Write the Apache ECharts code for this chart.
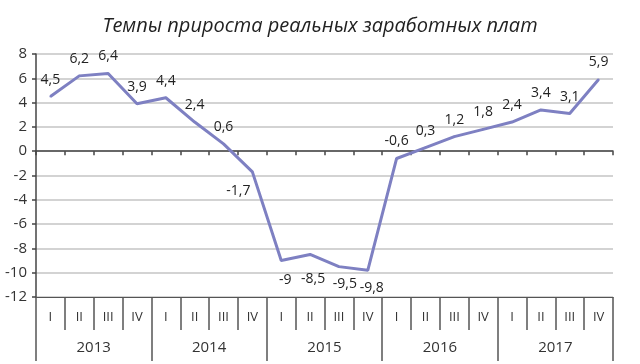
<!DOCTYPE html>
<html><head><meta charset="utf-8">
<script src="https://cdn.jsdelivr.net/npm/echarts@6/dist/echarts.min.js"></script>
<style>html,body{margin:0;padding:0;background:#fff}#c{width:640px;height:364px}</style>
</head><body><div id="c"></div>
<script>
var title = 'Темпы прироста реальных заработных плат';
var quarters = ['I','II','III','IV','I','II','III','IV','I','II','III','IV','I','II','III','IV','I','II','III','IV'];
var years = ['2013','2014','2015','2016','2017'];
var values = [4.5, 6.2, 6.4, 3.9, 4.4, 2.4, 0.6, -1.7, -9, -8.5, -9.5, -9.8, -0.6, 0.3, 1.2, 1.8, 2.4, 3.4, 3.1, 5.9];
var yTicks = {min: -12, max: 8, interval: 2};

var font = "'Open Sans', 'Noto Sans', sans-serif";
var dark = '#333';
// label centre offsets (dx, dy) from the point for labels placed below the line
var belowShift = {7: [-14, 19], 8: [4, 19], 9: [3, 25], 10: [6, 17], 11: [4, 18]};
var data = values.map(function(v, i){
  var item = {value: v};
  var s = belowShift[i];
  if (s) item.label = {position: [1 + s[0], 1 + s[1]], align: 'center', verticalAlign: 'middle'};
  return item;
});
var chart = echarts.init(document.getElementById('c'));
chart.setOption({
  animation: false,
  title: {text: title, left: 'center', top: 11,
    textStyle: {fontFamily: font, fontStyle: 'italic', fontWeight: 'normal', fontSize: 20, color: '#222'}},
  grid: {left: 36, right: 27, top: 54, bottom: 67},
  xAxis: [
    {type: 'category', data: quarters, position: 'bottom',
     axisLine: {onZero: true, lineStyle: {color: '#444', width: 1.5}},
     axisTick: {show: true, interval: 0, length: 4, lineStyle: {color: '#444', width: 1.5}},
     axisLabel: {show: false}, splitLine: {show: false}},
    {type: 'category', data: quarters, position: 'bottom',
     axisLine: {onZero: false, lineStyle: {color: '#555', width: 1}},
     axisTick: {show: true, interval: 0, length: 33, lineStyle: {color: '#555', width: 1.5}},
     axisLabel: {interval: 0, margin: 14, fontFamily: font, fontSize: 13, color: dark}},
    {type: 'category', data: years, position: 'bottom',
     axisLine: {onZero: false, show: false},
     axisTick: {show: true, interval: 0, length: 64, lineStyle: {color: '#555', width: 1.5}},
     axisLabel: {interval: 0, margin: 43, fontFamily: font, fontSize: 15, color: dark}}
  ],
  yAxis: {type: 'value', min: yTicks.min, max: yTicks.max, interval: yTicks.interval,
    axisLine: {show: true, lineStyle: {color: '#444', width: 1.5}},
    axisTick: {show: true, length: 4, lineStyle: {color: '#444', width: 1.5}},
    axisLabel: {margin: 9, fontFamily: font, fontSize: 15, color: dark,
      formatter: function(v){ return String(v); }},
    splitLine: {lineStyle: {color: '#c4c4c4', width: 1.5}}},
  series: [{type: 'line', xAxisIndex: 0, yAxisIndex: 0, data: data, symbol: 'circle', symbolSize: 2, showSymbol: true,
    itemStyle: {color: '#7e80c2'},
    lineStyle: {color: '#7e80c2', width: 3},
    labelLayout: {hideOverlap: false},
    label: {show: true, position: 'top', distance: 9, fontFamily: font, fontSize: 14, color: '#222',
      formatter: function(p){ return String(p.value).replace('.', ','); }}}]
});
</script></body></html>
